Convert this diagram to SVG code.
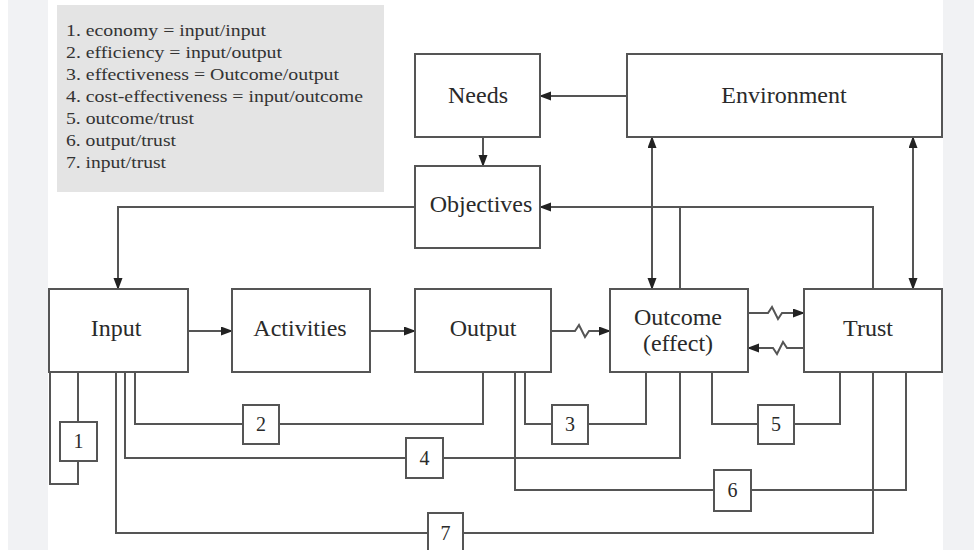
<svg xmlns="http://www.w3.org/2000/svg" width="974" height="550" viewBox="0 0 974 550">
<style>
.box{fill:#fff;stroke:#555;stroke-width:2}
.nb{fill:#fff;stroke:#555;stroke-width:2}
.lbl{font-family:"Liberation Serif","Times New Roman",serif;font-size:24px;fill:#2a2a2a;text-anchor:middle}
.num{font-family:"Liberation Serif","Times New Roman",serif;font-size:20px;fill:#2a2a2a;text-anchor:middle}
.leg{font-family:"Liberation Serif","Times New Roman",serif;font-size:17px;fill:#333}
.conn{fill:none;stroke:#555;stroke-width:2}
.arr{marker-end:url(#ah)}
.bi{marker-start:url(#ah);marker-end:url(#ah)}
</style>
<defs>
<marker id="ah" markerWidth="12" markerHeight="10" refX="11" refY="4.5" orient="auto-start-reverse" markerUnits="userSpaceOnUse">
<path d="M0,0 L12,4.5 L0,9 z" fill="#222"/>
</marker>
</defs>
<rect x="0" y="0" width="974" height="550" fill="#fff"/>
<rect x="8" y="0" width="40" height="550" fill="#f1f2f4"/>
<rect x="943" y="0" width="31" height="550" fill="#f1f2f4"/>
<g id="legend">
<rect x="57" y="5" width="327" height="187" fill="#e4e4e4"/>
<text class="leg" x="66" y="36" textLength="200" lengthAdjust="spacingAndGlyphs">1. economy = input/input</text>
<text class="leg" x="66" y="58" textLength="216" lengthAdjust="spacingAndGlyphs">2. efficiency = input/output</text>
<text class="leg" x="66" y="80" textLength="273" lengthAdjust="spacingAndGlyphs">3. effectiveness = Outcome/output</text>
<text class="leg" x="66" y="102" textLength="297" lengthAdjust="spacingAndGlyphs">4. cost-effectiveness = input/outcome</text>
<text class="leg" x="66" y="124" textLength="128" lengthAdjust="spacingAndGlyphs">5. outcome/trust</text>
<text class="leg" x="66" y="146" textLength="110" lengthAdjust="spacingAndGlyphs">6. output/trust</text>
<text class="leg" x="66" y="168" textLength="100" lengthAdjust="spacingAndGlyphs">7. input/trust</text>
</g>
<g id="connectors">
<path class="conn arr" d="M627,96 H540"/>
<path class="conn arr" d="M483,137 V166"/>
<path class="conn arr" d="M415,207 H118 V289"/>
<path class="conn arr" d="M873,289 V207 H540"/>
<path class="conn" d="M680,289 V207"/>
<path class="conn bi" d="M652,289 V137"/>
<path class="conn bi" d="M913,289 V137"/>
<path class="conn arr" d="M188,331 H232"/>
<path class="conn arr" d="M370,331 H415"/>
<path class="conn arr" d="M551,331 H575 L579,325 L585,337 L589,331 H610"/>
<path class="conn arr" d="M748,313 H768 L772,307 L778,319 L782,313 H804"/>
<path class="conn arr" d="M804,348 H787 L783,342 L777,354 L773,348 H748"/>
<path class="conn" d="M78,372 V461 M78,461 V484 H50 V372"/>
<path class="conn" d="M135,372 V424 H483 V372"/>
<path class="conn" d="M525,372 V424 H646 V372"/>
<path class="conn" d="M125,372 V458 H680 V372"/>
<path class="conn" d="M712,372 V424 H840 V372"/>
<path class="conn" d="M515,372 V490 H906 V372"/>
<path class="conn" d="M116,372 V533 H873 V372"/>
</g>
<g id="needs"><rect class="box" x="415" y="54" width="125" height="83"/><text class="lbl" x="478" y="103">Needs</text></g>
<g id="environment"><rect class="box" x="627" y="54" width="315" height="83"/><text class="lbl" x="784" y="103">Environment</text></g>
<g id="objectives"><rect class="box" x="415" y="166" width="125" height="82"/><text class="lbl" x="481" y="212">Objectives</text></g>
<g id="input"><rect class="box" x="49" y="289" width="139" height="83"/><text class="lbl" x="116" y="336">Input</text></g>
<g id="activities"><rect class="box" x="232" y="289" width="138" height="83"/><text class="lbl" x="300" y="336">Activities</text></g>
<g id="output"><rect class="box" x="415" y="289" width="136" height="83"/><text class="lbl" x="483" y="336">Output</text></g>
<g id="outcome"><rect class="box" x="610" y="289" width="138" height="83"/><text class="lbl" x="678" y="325">Outcome</text><text class="lbl" x="678" y="351">(effect)</text></g>
<g id="trust"><rect class="box" x="804" y="289" width="138" height="83"/><text class="lbl" x="868" y="336">Trust</text></g>
<g id="n1"><rect class="nb" x="60" y="422" width="37" height="39"/><text class="num" x="78.5" y="448">1</text></g>
<g id="n2"><rect class="nb" x="243" y="405" width="36" height="39"/><text class="num" x="261" y="431">2</text></g>
<g id="n3"><rect class="nb" x="552" y="405" width="36" height="39"/><text class="num" x="570" y="431">3</text></g>
<g id="n4"><rect class="nb" x="406" y="438" width="37" height="40"/><text class="num" x="424.5" y="465">4</text></g>
<g id="n5"><rect class="nb" x="758" y="405" width="36" height="39"/><text class="num" x="776" y="431">5</text></g>
<g id="n6"><rect class="nb" x="714" y="470" width="37" height="41"/><text class="num" x="732.5" y="497">6</text></g>
<g id="n7"><rect class="nb" x="428" y="513" width="35" height="40"/><text class="num" x="445.5" y="540">7</text></g>
</svg>
